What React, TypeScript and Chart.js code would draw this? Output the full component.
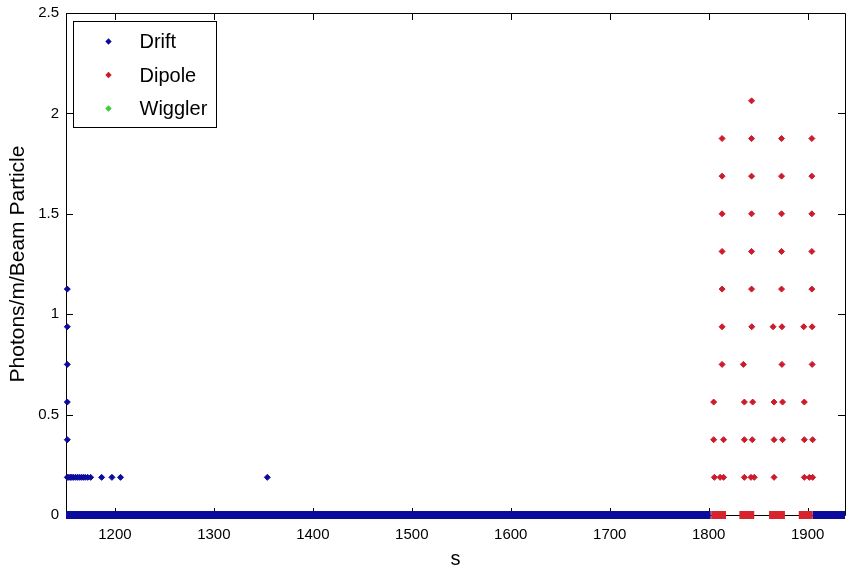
import React, { useEffect, useRef } from "react";
import { Chart, registerables } from "chart.js";

Chart.register(...registerables);

// ---- axis ----
const xRange = [1150.6, 1937.7];
const yRange = [0, 2.5];
const xTicks = [1200, 1300, 1400, 1500, 1600, 1700, 1800, 1900];
const yTicks = [0, 0.5, 1, 1.5, 2, 2.5];
const yTickLabels = ["0", "0.5", "1", "1.5", "2", "2.5"];

// ---- Drift (non-zero points) ----
const driftS = [
  1151.9, 1151.9, 1151.9, 1151.9, 1151.9, 1151.9,
  1153.5, 1155, 1156.5, 1158, 1160, 1162, 1164, 1166, 1168, 1170, 1172.5, 1175.5,
  1186.6, 1197, 1205.7, 1354,
];
const driftY = [
  1.125, 0.9375, 0.75, 0.5625, 0.375, 0.1875,
  0.1875, 0.1875, 0.1875, 0.1875, 0.1875, 0.1875, 0.1875, 0.1875, 0.1875, 0.1875, 0.1875, 0.1875,
  0.1875, 0.1875, 0.1875, 0.1875,
];
// Drift: dense runs of points lying on zero
const driftZeroRanges = [
  [1150.6, 1802],
  [1905, 1937.7],
];

// ---- Dipole ----
const dipoleS = [
  1843.3,
  1813.5, 1843.3, 1873.6, 1904.2,
  1813.5, 1843.3, 1873.6, 1904.2,
  1813.5, 1843.3, 1873.6, 1904.2,
  1813.5, 1843.3, 1873.6, 1904.2,
  1813.5, 1843.3, 1873.6, 1904.2,
  1813.5, 1843.5, 1865, 1874, 1896, 1904.5,
  1813.5, 1835, 1874, 1904.5,
  1805, 1836, 1844.4, 1866, 1874.6, 1896.6,
  1805, 1815, 1836, 1844, 1866, 1874.6, 1896.6, 1905,
  1805.7, 1811.5, 1815, 1836, 1842.7, 1846, 1866, 1896.6, 1901.7, 1905,
];
const dipoleY = [
  2.0625,
  1.875, 1.875, 1.875, 1.875,
  1.6875, 1.6875, 1.6875, 1.6875,
  1.5, 1.5, 1.5, 1.5,
  1.3125, 1.3125, 1.3125, 1.3125,
  1.125, 1.125, 1.125, 1.125,
  0.9375, 0.9375, 0.9375, 0.9375, 0.9375, 0.9375,
  0.75, 0.75, 0.75, 0.75,
  0.5625, 0.5625, 0.5625, 0.5625, 0.5625, 0.5625,
  0.375, 0.375, 0.375, 0.375, 0.375, 0.375, 0.375, 0.375,
  0.1875, 0.1875, 0.1875, 0.1875, 0.1875, 0.1875, 0.1875, 0.1875, 0.1875, 0.1875,
];
const dipoleZeroRanges = [
  [1802.5, 1817.5],
  [1831, 1846],
  [1861, 1877],
  [1891, 1905],
];

// ---- Wiggler (no visible points) ----
const wigglerS: number[] = [];
const wigglerY: number[] = [];

const legendLabels = ["Drift", "Dipole", "Wiggler"];
const seriesColors = ["#0c0c9c", "#cc1b2b", "#3ccc3c"];

const FONT = "'Liberation Sans', Arial, Helvetica, sans-serif";

const framePlugin = {
  id: "matlabFrame",
  beforeDatasetsDraw(chart: any) {
    const { ctx, chartArea } = chart;
    const { left, right, top, bottom } = chartArea;
    const xs = chart.scales.x;
    const ys = chart.scales.y;
    const tl = 7;
    ctx.save();
    ctx.strokeStyle = "#000";
    ctx.lineWidth = 1;
    ctx.beginPath();
    ctx.rect(Math.round(left) + 0.5, Math.round(top) + 0.5, Math.round(right - left), Math.round(bottom - top));
    for (const v of xTicks) {
      const px = Math.round(xs.getPixelForValue(v)) + 0.5;
      ctx.moveTo(px, bottom);
      ctx.lineTo(px, bottom - tl);
      ctx.moveTo(px, top);
      ctx.lineTo(px, top + tl);
    }
    for (const v of yTicks) {
      const py = Math.round(ys.getPixelForValue(v)) + 0.5;
      ctx.moveTo(left, py);
      ctx.lineTo(left + tl, py);
      ctx.moveTo(right, py);
      ctx.lineTo(right - tl, py);
    }
    ctx.stroke();
    ctx.restore();
  },
};

const legendPlugin = {
  id: "boxLegend",
  afterDraw(chart: any) {
    const { ctx, chartArea } = chart;
    const bx = Math.round(chartArea.left) + 7.5;
    const by = Math.round(chartArea.top) + 8.5;
    const bw = 143;
    const bh = 106;
    ctx.save();
    ctx.fillStyle = "#fff";
    ctx.fillRect(bx, by, bw, bh);
    ctx.strokeStyle = "#000";
    ctx.lineWidth = 1;
    ctx.strokeRect(bx, by, bw, bh);
    const items = chart.data.datasets.filter((d: any) => legendLabels.includes(d.label));
    items.forEach((d: any, i: number) => {
      const cy = by + 20 + i * 33.5;
      const mx = bx + 35;
      const r = 3.2;
      ctx.fillStyle = d.backgroundColor;
      ctx.beginPath();
      ctx.moveTo(mx - r, cy);
      ctx.lineTo(mx, cy - r);
      ctx.lineTo(mx + r, cy);
      ctx.lineTo(mx, cy + r);
      ctx.closePath();
      ctx.fill();
      ctx.fillStyle = "#000";
      ctx.font = `20px ${FONT}`;
      ctx.textBaseline = "middle";
      ctx.textAlign = "left";
      ctx.fillText(d.label, bx + 66, cy + 1);
    });
    ctx.restore();
  },
};

function pts(s: number[], y: number[]) {
  return s.map((v, i) => ({ x: v, y: y[i] }));
}

export default function App() {
  const ref = useRef<HTMLCanvasElement | null>(null);

  useEffect(() => {
    if (!ref.current) return;
    const pointDs = (label: string, data: any[], color: string, order: number) => ({
      type: "scatter" as const,
      label,
      data,
      backgroundColor: color,
      borderColor: color,
      borderWidth: 1,
      pointStyle: "rectRot",
      pointRadius: 3,
      showLine: false,
      clip: false,
      order,
    });
    const bandDs = (range: number[], color: string, order: number) => ({
      type: "scatter" as const,
      label: "",
      data: [
        { x: range[0], y: 0 },
        { x: range[1], y: 0 },
      ],
      showLine: true,
      borderColor: color,
      backgroundColor: color,
      borderWidth: 8,
      borderCapStyle: "butt",
      pointRadius: 0,
      clip: false,
      order,
    });

    const datasets: any[] = [
      pointDs("Drift", pts(driftS, driftY), seriesColors[0], 2),
      pointDs("Dipole", pts(dipoleS, dipoleY), seriesColors[1], 0),
      pointDs("Wiggler", pts(wigglerS, wigglerY), seriesColors[2], 0),
      ...driftZeroRanges.map((r) => bandDs(r, seriesColors[0], 3)),
      ...dipoleZeroRanges.map((r) => bandDs(r, "#d8222e", 1)),
    ];

    const chart = new Chart(ref.current, {
      type: "scatter",
      data: { datasets },
      options: {
        responsive: false,
        animation: false,
        events: [],
        layout: { padding: { top: 13, right: 3, left: 0, bottom: 0 } },
        plugins: {
          legend: { display: false },
          tooltip: { enabled: false },
        },
        scales: {
          x: {
            type: "linear",
            min: xRange[0],
            max: xRange[1],
            afterBuildTicks: (s: any) => {
              s.ticks = xTicks.map((v) => ({ value: v }));
            },
            afterFit: (s: any) => {
              s.height = 58;
              s.paddingLeft = 0;
              s.paddingRight = 0;
            },
            grid: { display: false, drawTicks: false },
            border: { display: false },
            ticks: {
              padding: 11,
              color: "#000",
              font: { family: FONT, size: 15 },
              callback: (v: any) => String(v),
              maxRotation: 0,
              autoSkip: false,
            },
            title: {
              display: true,
              text: "s",
              color: "#000",
              font: { family: FONT, size: 20 },
              padding: { top: 0, bottom: 2 },
            },
          },
          y: {
            type: "linear",
            min: yRange[0],
            max: yRange[1],
            afterBuildTicks: (s: any) => {
              s.ticks = yTicks.map((v) => ({ value: v }));
            },
            afterFit: (s: any) => {
              s.width = 66;
              s.paddingTop = 0;
              s.paddingBottom = 0;
            },
            grid: { display: false, drawTicks: false },
            border: { display: false },
            ticks: {
              padding: 7,
              color: "#000",
              font: { family: FONT, size: 15 },
              callback: (v: any) => {
                const i = yTicks.indexOf(Number(v));
                return i >= 0 ? yTickLabels[i] : String(v);
              },
              autoSkip: false,
            },
            title: {
              display: true,
              text: "Photons/m/Beam Particle",
              color: "#000",
              font: { family: FONT, size: 21 },
              padding: { top: 6, bottom: 0 },
            },
          },
        },
      },
      plugins: [framePlugin, legendPlugin],
    } as any);

    return () => chart.destroy();
  }, []);

  return (
    <div style={{ position: "absolute", left: 0, top: 0, width: 850, height: 573, background: "#fff" }}>
      <canvas ref={ref} width={850} height={573} style={{ display: "block", width: 850, height: 573 }} />
    </div>
  );
}
